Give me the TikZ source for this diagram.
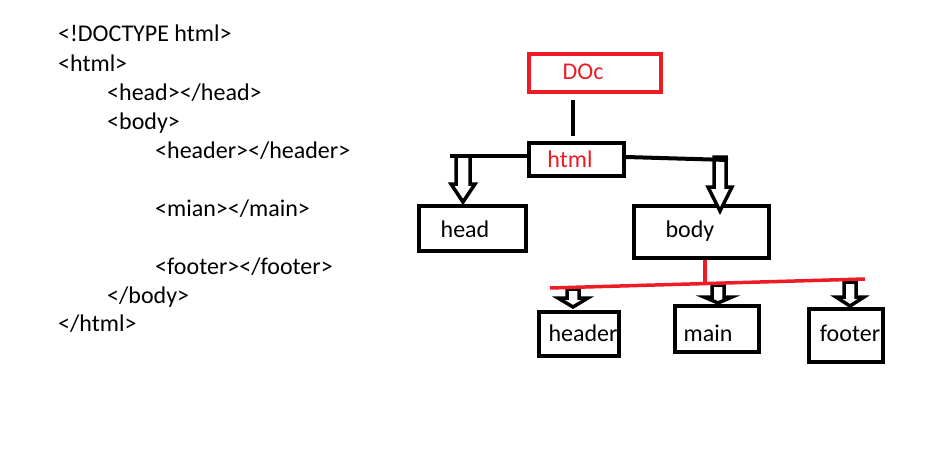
\documentclass[tikz,border=0pt]{standalone}
\usepackage{fontspec}
\setmainfont{Carlito}
\definecolor{pred}{RGB}{237,28,36}
\newcommand\harrow[6]{%
  \draw[hollow] ({#1-#5},#2) -- ({#1-#5},#3) -- ({#1-#6},#3) -- (#1,#4) -- ({#1+#6},#3) -- ({#1+#5},#3) -- ({#1+#5},#2) -- cycle;}
\begin{document}
\begin{tikzpicture}[x=1pt,y=-1pt,
  box/.style={draw=black,line width=4pt,inner sep=0pt},
  redbox/.style={draw=pred,line width=4pt,inner sep=0pt},
  lbl/.style={font=\fontsize{24}{28}\selectfont,inner sep=0pt,anchor=base},
  code/.style={font=\fontsize{24}{28}\selectfont,anchor=base west,inner sep=0pt},
  conn/.style={line width=4pt},
  redconn/.style={draw=pred,line width=3.5pt},
  hollow/.style={draw=black,line width=3.5pt,line join=miter,fill=white}]
\useasboundingbox (0,0) rectangle (945,460);

% code listing
\node[code] (c1) at (58,42) {<!DOCTYPE html>};
\node[code] (c2) at (58,71) {<html>};
\node[code] (c3) at (107,100) {<head></head>};
\node[code] (c4) at (107,129) {<body>};
\node[code] (c5) at (155,158) {<header></header>};
\node[code] (c6) at (155,216) {<mian></main>};
\node[code] (c7) at (155,274) {<footer></footer>};
\node[code] (c8) at (107,303) {</body>};
\node[code] (c9) at (58,331) {</html>};

% boxes
\node[redbox,minimum width=132,minimum height=38] (doc) at (595,73) {};
\node[box,minimum width=95,minimum height=33] (html) at (576.5,159.5) {};
\node[box,minimum width=107,minimum height=45] (head) at (472.5,228.5) {};
\node[box,minimum width=135,minimum height=52] (body) at (701.5,232) {};
\node[box,minimum width=80,minimum height=44] (header) at (579,334) {};
\node[box,minimum width=84,minimum height=46] (main) at (717,329) {};
\node[box,minimum width=74,minimum height=53] (footer) at (846,335.5) {};

% labels
\node[lbl,text=pred] (doct) at (583,79) {DOc};
\node[lbl,text=pred] (htmlt) at (570,167) {html};
\node[lbl] (headt) at (465,237) {head};
\node[lbl] (bodyt) at (690,237) {body};
\node[lbl] (headert) at (583,341) {header};
\node[lbl] (maint) at (708,341) {main};
\node[lbl] (footert) at (850,341) {footer};

% connectors
\coordinate (v1) at (573,100);
\coordinate (v2) at (573,136);
\draw[conn] (v1) -- (v2);
\coordinate (hl) at (450,156);
\coordinate (hr) at (728,160);
\harrow{463}{156}{184}{202}{7}{12}
\harrow{720}{157}{187}{211}{6}{12}
\draw[conn] (hl) -- (html.west |- hl);
\draw[conn] (html.east |- 0,157) -- (hr);

\harrow{573}{289}{298}{307}{6}{15}
\harrow{718}{285}{297}{303}{6}{14}
\harrow{850}{282}{297}{306}{6}{14}
\coordinate (rb) at (705,284);
\coordinate (rl) at (550,288);
\coordinate (rr) at (865,279);
\draw[redconn] (body.south -| rb) -- (rb);
\draw[redconn] (rl) -- (rr);
\end{tikzpicture}
\end{document}
